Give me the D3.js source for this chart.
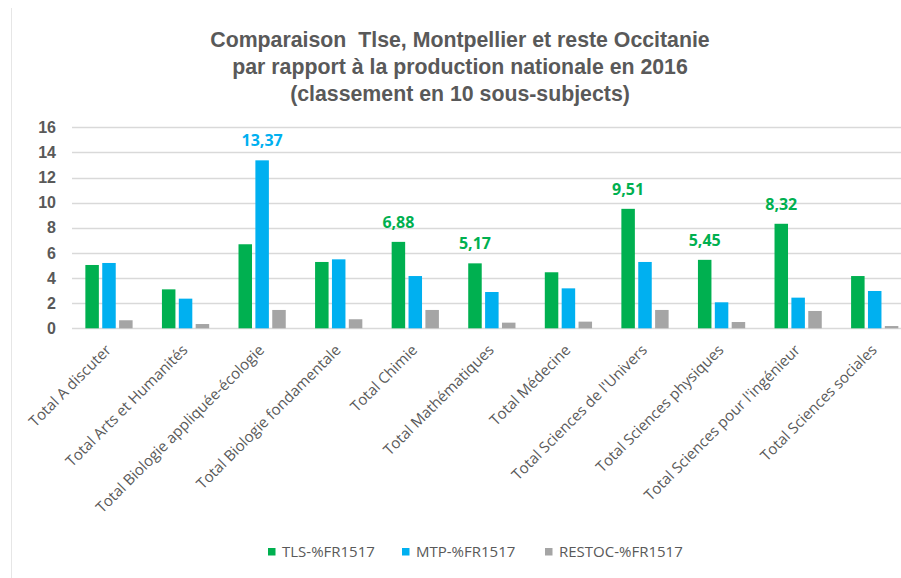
<!DOCTYPE html>
<html>
<head>
<meta charset="utf-8">
<script src="https://cdn.jsdelivr.net/npm/d3@7"></script>
<style>
  body { margin: 0; background: #fff; }
  svg { display: block; }
</style>
</head>
<body>
<div id="chart"></div>
<script>
var width = 901,
    height = 578;

var categories = ['Total A discuter', 'Total Arts et Humanités', 'Total Biologie appliquée-écologie',
    'Total Biologie fondamentale', 'Total Chimie', 'Total Mathématiques', 'Total Médecine',
    "Total Sciences de l'Univers", 'Total Sciences physiques', "Total Sciences pour l'ingénieur",
    'Total Sciences sociales'];

var seriesNames = ['TLS-%FR1517', 'MTP-%FR1517', 'RESTOC-%FR1517'];
var tls    = [5.04, 3.10, 6.69, 5.28, 6.88, 5.17, 4.46, 9.51, 5.45, 8.32, 4.16];
var mtp    = [5.20, 2.36, 13.37, 5.49, 4.16, 2.89, 3.18, 5.28, 2.07, 2.44, 2.97];
var restoc = [0.64, 0.34, 1.46, 0.72, 1.46, 0.45, 0.53, 1.46, 0.50, 1.38, 0.18];
var colors = ['#00B050', '#00B0F0', '#A5A5A5'];

// which bars carry a value label (series index, category index)
var labelled = [[1, 2], [0, 4], [0, 5], [0, 7], [0, 8], [0, 9]];

var yTicks = [0, 2, 4, 6, 8, 10, 12, 14, 16];
var titleLines = ['Comparaison\u00A0 Tlse, Montpellier et reste Occitanie',
    'par rapport à la production nationale en 2016',
    '(classement en 10 sous-subjects)'];

var values = [tls, mtp, restoc];
var fr = d3.formatLocale({decimal: ',', thousands: ' ', grouping: [3], currency: ['', '€']});
var fmt = fr.format('.2f');

var svg = d3.select('#chart')
    .append('svg')
    .attr('width', width)
    .attr('height', height);

// faint chart frame on the left
svg.append('line')
    .attr('x1', 11.5).attr('x2', 11.5)
    .attr('y1', 8).attr('y2', height)
    .attr('stroke', '#E6E6E6');

var x0 = d3.scaleBand()
    .domain(categories)
    .range([70.7, 913])
    .paddingInner(0.383)
    .paddingOuter(0.1915);

var x1 = d3.scaleBand()
    .domain(d3.range(3))
    .range([0, x0.bandwidth()])
    .paddingInner(0.2);

var y = d3.scaleLinear()
    .domain([0, 16])
    .range([328.3, 127.3]);

// gridlines
svg.append('g')
    .selectAll('line')
    .data(yTicks)
    .enter()
    .append('line')
    .attr('x1', 72)
    .attr('x2', width)
    .attr('y1', d => Math.round(y(d)) + 0.5)
    .attr('y2', d => Math.round(y(d)) + 0.5)
    .attr('stroke', '#D9D9D9')
    .attr('stroke-width', 1.5);

// y axis labels
var yAxis = svg.append('g')
    .attr('transform', 'translate(56,0)')
    .call(d3.axisLeft(y).tickValues(yTicks).tickSize(0).tickPadding(0));
yAxis.select('.domain').remove();
yAxis.selectAll('text')
    .attr('fill', '#595959')
    .style('font-family', 'Liberation Sans, Arial, sans-serif')
    .style('font-size', '16px')
    .style('font-weight', 'bold');

// bars
var groups = svg.append('g')
    .selectAll('g')
    .data(categories)
    .enter()
    .append('g')
    .attr('transform', d => 'translate(' + x0(d) + ',0)');

groups.selectAll('rect')
    .data((d, i) => values.map((v, s) => ({s: s, v: v[i]})))
    .enter()
    .append('rect')
    .attr('x', d => x1(d.s))
    .attr('width', x1.bandwidth())
    .attr('y', d => y(d.v))
    .attr('height', d => y(0) - y(d.v))
    .attr('fill', d => colors[d.s]);

// value labels
svg.append('g')
    .selectAll('text')
    .data(labelled)
    .enter()
    .append('text')
    .attr('x', d => x0(categories[d[1]]) + x1(d[0]) + x1.bandwidth() / 2)
    .attr('y', d => y(values[d[0]][d[1]]) - 14)
    .attr('text-anchor', 'middle')
    .attr('fill', d => colors[d[0]])
    .style('font-family', 'Open Sans, sans-serif')
    .style('font-size', '16px')
    .style('font-weight', 'bold')
    .text(d => fmt(values[d[0]][d[1]]));

// category labels, rotated
svg.append('g')
    .selectAll('text')
    .data(categories)
    .enter()
    .append('text')
    .attr('transform', d => 'translate(' + (x0(d) + x0.bandwidth() / 2 + 3) + ',351) rotate(-45)')
    .attr('text-anchor', 'end')
    .attr('fill', '#595959')
    .style('font-family', 'Open Sans, sans-serif')
    .style('font-size', '15px')
    .text(d => d);

// title
svg.append('text')
    .attr('x', 460)
    .attr('y', 47)
    .attr('text-anchor', 'middle')
    .attr('fill', '#595959')
    .style('font-family', 'Liberation Sans, Arial, sans-serif')
    .style('font-size', '21.3px')
    .style('font-weight', 'bold')
    .selectAll('tspan')
    .data(titleLines)
    .enter()
    .append('tspan')
    .attr('x', 460)
    .attr('dy', (d, i) => i ? 27 : 0)
    .text(d => d);

// legend
var legendX = [268, 402, 545];
var legend = svg.append('g')
    .selectAll('g')
    .data(seriesNames)
    .enter()
    .append('g')
    .attr('transform', (d, i) => 'translate(' + legendX[i] + ',548)');

legend.append('rect')
    .attr('width', 7.5)
    .attr('height', 7.5)
    .attr('fill', (d, i) => colors[i]);

legend.append('text')
    .attr('x', 14)
    .attr('y', 4)
    .attr('dy', '0.35em')
    .attr('fill', '#595959')
    .style('font-family', 'Open Sans, sans-serif')
    .style('font-size', '15px')
    .text(d => d);
</script>
</body>
</html>
